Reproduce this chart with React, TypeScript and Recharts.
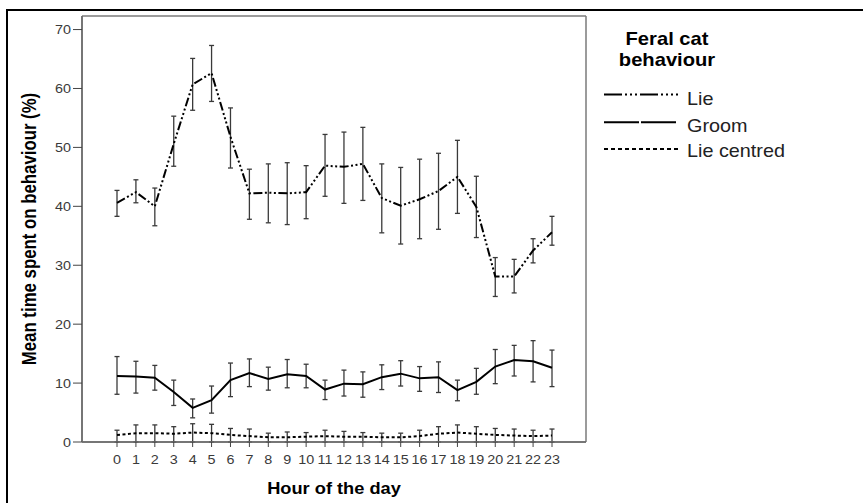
import React from 'react';
import { LineChart, Line, XAxis, YAxis, ErrorBar, Legend, Label, CartesianGrid } from 'recharts';

const hours = ['0', '1', '2', '3', '4', '5', '6', '7', '8', '9', '10', '11', '12', '13', '14', '15', '16', '17', '18', '19', '20', '21', '22', '23'];

const lieMean = [40.6, 42.4, 40.0, 50.6, 60.7, 62.6, 51.8, 42.2, 42.3, 42.2, 42.4, 46.9, 46.7, 47.2, 41.4, 40.1, 41.2, 42.6, 45.0, 39.9, 28.1, 28.1, 32.5, 35.6];
const lieUpper = [42.7, 44.5, 43.1, 55.3, 65.1, 67.3, 56.7, 46.3, 47.2, 47.4, 46.9, 52.2, 52.6, 53.4, 47.2, 46.6, 48.0, 49.0, 51.2, 45.1, 31.3, 31.0, 34.5, 38.3];
const lieLower = [38.3, 40.6, 36.7, 46.8, 56.3, 57.8, 46.5, 37.8, 37.2, 36.9, 37.9, 41.7, 40.5, 41.0, 35.5, 33.6, 34.5, 36.1, 38.8, 34.7, 24.7, 25.3, 30.4, 33.4];

const groomMean = [11.2, 11.1, 10.9, 8.5, 5.8, 7.1, 10.5, 11.7, 10.7, 11.5, 11.2, 8.9, 9.9, 9.8, 11.0, 11.6, 10.8, 11.0, 8.8, 10.2, 12.8, 13.9, 13.7, 12.6];
const groomUpper = [14.5, 13.7, 13.0, 10.5, 7.3, 9.5, 13.4, 14.1, 12.7, 14.0, 13.2, 10.5, 12.2, 11.9, 13.1, 13.8, 12.8, 13.6, 10.5, 12.5, 15.7, 16.4, 17.2, 15.6];
const groomLower = [8.1, 8.3, 8.8, 6.2, 4.1, 4.9, 7.7, 9.4, 8.8, 9.2, 9.2, 7.2, 7.8, 7.6, 8.9, 9.5, 8.6, 8.4, 7.0, 8.1, 9.9, 11.2, 10.2, 9.4];

const centredMean = [1.2, 1.5, 1.5, 1.4, 1.6, 1.5, 1.2, 1.0, 0.8, 0.8, 0.9, 1.0, 0.9, 0.9, 0.8, 0.8, 1.0, 1.4, 1.6, 1.4, 1.2, 1.1, 1.0, 1.1];
const centredUpper = [2.0, 2.9, 2.9, 2.6, 3.1, 3.0, 2.3, 2.2, 1.5, 1.7, 1.6, 2.0, 1.8, 1.6, 1.5, 1.5, 2.0, 2.6, 2.9, 2.6, 2.3, 2.2, 2.0, 2.2];
const centredLower = [0, 0, 0, 0, 0, 0, 0, 0, 0, 0, 0, 0, 0, 0, 0, 0, 0, 0, 0, 0, 0, 0, 0, 0];

const yTicks = [0, 10, 20, 30, 40, 50, 60, 70];

const FONT = 'Arial, "Liberation Sans", sans-serif';
const STRETCH = 1.15;

const chartData = hours.map((hour, i) => ({
  hour,
  lie: lieMean[i],
  lieErr: [lieMean[i] - lieLower[i], lieUpper[i] - lieMean[i]],
  groom: groomMean[i],
  groomErr: [groomMean[i] - groomLower[i], groomUpper[i] - groomMean[i]],
  centred: centredMean[i],
  centredErr: [centredMean[i] - centredLower[i], centredUpper[i] - centredMean[i]],
}));

const series = [
  { key: 'lie', errKey: 'lieErr', name: 'Lie', dash: '9 2.5 2 2.5 2 2.5 2 2.5', legendDash: '18 3 2 3 2 3 2 3' },
  { key: 'groom', errKey: 'groomErr', name: 'Groom', dash: undefined, legendDash: '35 2' },
  { key: 'centred', errKey: 'centredErr', name: 'Lie centred', dash: '3 2.5', legendDash: '4 3' },
];

const YTick = ({ x, y, payload }: any) => (
  <g transform={`translate(${x},${y + 4.5}) scale(${STRETCH},1)`}>
    <text x={0} y={0} textAnchor="end" fontSize={12.5} fill="#3a3a3a" fontFamily={FONT}>
      {payload.value}
    </text>
  </g>
);

const XTick = ({ x, y, payload }: any) => (
  <g transform={`translate(${x},${y + 9}) scale(${STRETCH},1)`}>
    <text x={0} y={0} textAnchor="middle" fontSize={12.5} fill="#3a3a3a" fontFamily={FONT}>
      {payload.value}
    </text>
  </g>
);

const YTitle = (props: any) => {
  const vb = props.viewBox;
  const cy = vb ? vb.y + vb.height / 2 : 229;
  return (
    <g transform={`translate(36,${cy}) scale(${STRETCH},1) rotate(-90)`}>
      <text x={0} y={0} textAnchor="middle" fontSize={16.8} fontWeight="bold" fill="#000" fontFamily={FONT}>
        Mean time spent on behaviour (%)
      </text>
    </g>
  );
};

const XTitle = (props: any) => {
  const vb = props.viewBox;
  const cx = vb ? vb.x + vb.width / 2 : 334;
  return (
    <g transform={`translate(${cx},494) scale(1.14,1)`}>
      <text x={0} y={0} textAnchor="middle" fontSize={16} fontWeight="bold" fill="#000" fontFamily={FONT}>
        Hour of the day
      </text>
    </g>
  );
};

// plot frame: top/bottom and left/right edges of the plot area
const frameRows = ({ offset }: any) => [offset.top, offset.top + offset.height];
const frameCols = ({ offset }: any) => [offset.left, offset.left + offset.width];

const renderLegend = () => (
  <svg width={220} height={150} style={{ display: 'block' }}>
    <g transform="translate(72,25) scale(1.12,1)">
      <text textAnchor="middle" fontSize={18} fontWeight="bold" fill="#000" fontFamily={FONT}>Feral cat</text>
    </g>
    <g transform="translate(72,45.5) scale(1.12,1)">
      <text textAnchor="middle" fontSize={18} fontWeight="bold" fill="#000" fontFamily={FONT}>behaviour</text>
    </g>
    {series.map((s, i) => {
      const ly = [74.5, 102.3, 129][i];
      const ty = [85, 112.3, 137.3][i];
      return (
        <g key={s.key}>
          <line x1={9} y1={ly} x2={83} y2={ly} stroke="#000" strokeWidth={2} strokeDasharray={s.legendDash} />
          <g transform={`translate(92,${ty}) scale(1.1,1)`}>
            <text fontSize={18} fill="#222" fontFamily={FONT}>{s.name}</text>
          </g>
        </g>
      );
    })}
  </svg>
);

export default function App() {
  return (
    <div style={{ position: 'absolute', left: 0, top: 0, width: 863, height: 503, background: '#fff' }}>
      <div
        style={{
          position: 'absolute',
          left: 6,
          top: 9,
          right: 0,
          bottom: 0,
          borderLeft: '2px solid #000',
          borderTop: '2px solid #000',
        }}
      />
      <LineChart
        width={863}
        height={503}
        data={chartData}
        margin={{ top: 16, right: 277, left: 22, bottom: 31 }}
        style={{ position: 'absolute', left: 0, top: 0 }}
      >
        <CartesianGrid
          stroke="#7a7a7a"
          strokeWidth={1.5}
          horizontalCoordinatesGenerator={frameRows}
          verticalCoordinatesGenerator={frameCols}
        />
        <XAxis
          dataKey="hour"
          interval={0}
          padding={{ left: 35, right: 34 }}
          height={30}
          tickSize={5}
          tickMargin={8}
          tick={<XTick />}
          axisLine={{ stroke: '#6a6a6a', strokeWidth: 1.5 }}
          tickLine={{ stroke: '#444' }}
        >
          <Label content={XTitle} />
        </XAxis>
        <YAxis
          domain={[0, 72.3]}
          ticks={yTicks}
          width={60}
          tickSize={9}
          tickMargin={2}
          tick={<YTick />}
          axisLine={{ stroke: '#6a6a6a', strokeWidth: 1.5 }}
          tickLine={{ stroke: '#444' }}
        >
          <Label content={YTitle} />
        </YAxis>
        <Legend
          layout="vertical"
          align="center"
          verticalAlign="middle"
          wrapperStyle={{ left: 595, top: 20, width: 220, height: 150 }}
          content={renderLegend}
        />
        {series.map((s) => (
          <Line
            key={s.key}
            dataKey={s.key}
            name={s.name}
            type="linear"
            stroke="#000"
            strokeWidth={2}
            strokeDasharray={s.dash}
            dot={false}
            activeDot={false}
            isAnimationActive={false}
          >
            <ErrorBar dataKey={s.errKey} direction="y" width={2.5} stroke="#3a3a3a" strokeWidth={1.3} isAnimationActive={false} />
          </Line>
        ))}
      </LineChart>
    </div>
  );
}
